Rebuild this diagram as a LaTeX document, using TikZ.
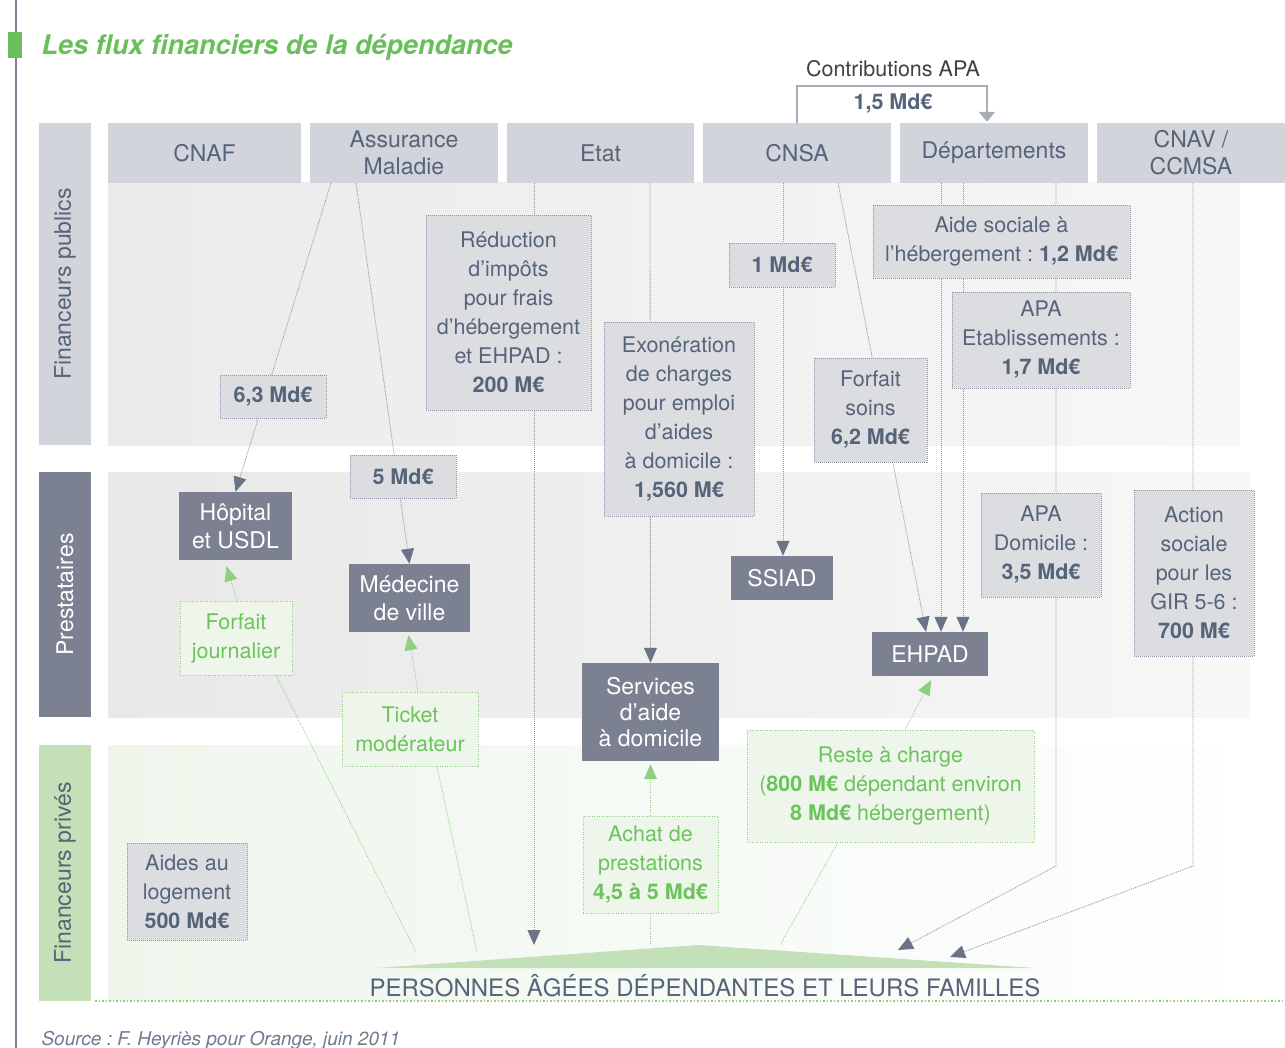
\documentclass[tikz,border=0pt]{standalone}
\usepackage{fontspec}
\setmainfont{TeX Gyre Heros}
\usepackage{xcolor}
\usetikzlibrary{arrows.meta,calc,positioning}
\frenchspacing

\definecolor{titlegreen}{HTML}{6ABF5C}
\definecolor{headgrey}{HTML}{D2D4DB}
\definecolor{textgrey}{HTML}{56647A}
\definecolor{labelgrey}{HTML}{DCDDE1}
\definecolor{dotgrey}{HTML}{8F95A3}
\definecolor{provgrey}{HTML}{7B8191}
\definecolor{arrowgrey}{HTML}{6B7486}
\definecolor{apagrey}{HTML}{A9ADB7}
\definecolor{palegreen}{HTML}{EEF6EC}
\definecolor{bandgreen}{HTML}{C3E0B8}
\definecolor{privgreen}{HTML}{6CC35C}
\definecolor{lightgreen}{HTML}{8FCF80}

\pgfdeclarelayer{back}
\pgfdeclarelayer{links}
\pgfsetlayers{back,links,main}

\begin{document}
\begin{tikzpicture}[x=1pt,y=-1pt,font=\fontsize{21.5}{29}\selectfont]
    \tikzstyle{header}=[fill=headgrey, text=textgrey, inner sep=0, minimum height=60, align=center, font=\fontsize{23}{27}\selectfont]
    \tikzstyle{band}=[inner sep=0, minimum height=52, font=\fontsize{23}{26}\selectfont]
    \tikzstyle{amount}=[fill=labelgrey, draw=dotgrey, line width=0.9, dash pattern=on 1pt off 1pt, text=textgrey, align=center, inner sep=0]
    \tikzstyle{provider}=[fill=provgrey, text=white, align=center, inner sep=0, font=\fontsize{23}{28}\selectfont]
    \tikzstyle{private}=[fill=palegreen, draw=lightgreen, line width=0.9, dash pattern=on 1pt off 1.5pt, text=privgreen, align=center, inner sep=0]
    \tikzstyle{flow}=[draw=dotgrey, line width=0.8, dash pattern=on 1pt off 1pt]
    \tikzstyle{flowto}=[flow, -{Triangle[width=13pt,length=15pt,color=arrowgrey]}]
    \tikzstyle{privflow}=[draw=lightgreen, line width=0.9, dash pattern=on 1pt off 1.5pt]
    \tikzstyle{privto}=[privflow, -{Triangle[width=13pt,length=15pt,color=lightgreen]}]
    \useasboundingbox (0,0) rectangle (1285,1048);

    \begin{pgfonlayer}{back}
        \fill[left color=black!8, right color=black!3] (108,183) rectangle (1240,445);
        \fill[left color=black!9, right color=black!3] (108,472) rectangle (1250,717);
        \fill[left color=palegreen, right color=white] (108,745) rectangle (1285,1000);
    \end{pgfonlayer}
    \draw[provgrey, line width=1.5] (16,0) -- (16,1048);
    \fill[titlegreen] (8,32) rectangle (22,58);
    \node[anchor=base west, text=titlegreen, font=\fontsize{27}{30}\selectfont\bfseries\itshape] (title) at (38,55) {Les flux financiers de la dépendance};

    \node[header, minimum width=193] (cnaf) at (204.5,153) {CNAF};
    \node[header, minimum width=188] (am) at (404,153) {Assurance\\Maladie};
    \node[header, minimum width=187] (etat) at (600.5,153) {Etat};
    \node[header, minimum width=188] (cnsa) at (797,153) {CNSA};
    \node[header, minimum width=188] (dep) at (994,153) {Départements};
    \node[header, minimum width=188] (cnav) at (1191,153) {CNAV /\\CCMSA};

    \node[band, fill=headgrey, text=textgrey, rotate=90, minimum width=322] (pub) at (65,284) {Financeurs publics};
    \node[band, fill=provgrey, text=white, rotate=90, minimum width=245] (prest) at (65,594.5) {Prestataires};
    \node[band, fill=bandgreen, text=textgrey, rotate=90, minimum width=256] (priv) at (65,873) {Financeurs privés};

    \node[text=black!75] (contrib) at (893,69) {Contributions APA};
    \node[text=textgrey, font=\fontsize{21.5}{24}\selectfont\bfseries] (contribval) at (893,104) {1,5 Md€};
    \draw[apagrey, line width=2.5, -{Triangle[width=16pt,length=10pt]}] (cnsa.north) -- ++(0,-37) -| ($(dep.north)+(-7,-1)$);

    \node[amount, minimum width=106, minimum height=43] (lab63) at (273,396.5) {\textbf{6,3 Md€}};
    \node[amount, minimum width=106, minimum height=43] (lab5) at (403,476.5) {\textbf{5 Md€}};
    \node[amount, minimum width=165, minimum height=195] (reduction) at (508.5,312.5) {Réduction\\d’impôts\\pour frais\\d’hébergement\\et EHPAD :\\\textbf{200 M€}};
    \node[amount, minimum width=106, minimum height=44] (onemd) at (782,265) {\textbf{1 Md€}};
    \node[amount, minimum width=150, minimum height=194] (exon) at (679,419) {Exonération\\de charges\\pour emploi\\d’aides\\à domicile :\\\textbf{1,560 M€}};
    \node[amount, minimum width=113, minimum height=104] (soins) at (870.5,410) {Forfait\\soins\\\textbf{6,2 Md€}};
    \node[amount, minimum width=257, minimum height=73] (aide) at (1001.5,241.5) {Aide sociale à\\l’hébergement : \textbf{1,2 Md€}};
    \node[amount, minimum width=178, minimum height=96] (apaetab) at (1041,340) {APA\\Etablissements :\\\textbf{1,7 Md€}};
    \node[amount, minimum width=120, minimum height=104] (apadom) at (1041,545) {APA\\Domicile :\\\textbf{3,5 Md€}};
    \node[amount, minimum width=120, minimum height=166] (action) at (1194,573) {Action\\sociale\\pour les\\GIR 5-6 :\\\textbf{700 M€}};
    \node[amount, minimum width=120, minimum height=97] (logement) at (187,891.5) {Aides au\\logement\\\textbf{500 Md€}};

    \node[provider, minimum width=113, minimum height=68] (hopital) at (235.5,526) {Hôpital\\et USDL};
    \node[provider, minimum width=121, minimum height=68] (medecine) at (409.5,598) {Médecine\\de ville};
    \node[provider, minimum width=102, minimum height=44] (ssiad) at (782,578) {SSIAD};
    \node[provider, minimum width=137, minimum height=98, font=\fontsize{23}{26}\selectfont] (services) at (650.5,712) {Services\\d’aide\\à domicile};
    \node[provider, minimum width=116, minimum height=44] (ehpad) at (930,654) {EHPAD};

    \node[private, minimum width=112, minimum height=74] (journalier) at (236,638) {Forfait\\journalier};
    \node[private, minimum width=136, minimum height=74] (ticket) at (410,729) {Ticket\\modérateur};
    \node[private, minimum width=135, minimum height=97] (achat) at (650.5,864.5) {Achat de\\prestations\\\textbf{4,5 à 5 Md€}};
    \node[private, minimum width=287, minimum height=112] (reste) at (890.5,786) {Reste à charge\\(\textbf{800 M€} dépendant environ\\\textbf{8 Md€} hébergement)};

    \fill[bandgreen] (376,968) -- (698,945) -- (1035,968) -- cycle;
    \coordinate (peak) at (698,945);
    \node[text=textgrey, font=\fontsize{24}{28}\selectfont] (personnes) at (705,986) {PERSONNES ÂGÉES DÉPENDANTES ET LEURS FAMILLES};
    \draw[lightgreen, line width=1.5, dash pattern=on 1.5pt off 2pt] (95,1001) -- (1285,1001);
    \node[anchor=base west, text=textgrey!85, font=\fontsize{19}{22}\selectfont\itshape] (source) at (38,1045) {Source : F. Heyriès pour Orange, juin 2011};

    \coordinate (am1) at (331,183);
    \coordinate (am2) at (356,183);
    \coordinate (etat1) at (534,183);
    \coordinate (etat2) at (650,183);
    \coordinate (cnsa1) at (783,183);
    \coordinate (cnsa2) at (838,183);
    \coordinate (dep1) at (941,183);
    \coordinate (dep2) at (963,183);
    \coordinate (dep3) at (1056,183);
    \coordinate (cnav1) at (1193,183);
    \coordinate (bendrow) at (0,866);
    \coordinate (famdep) at (898,950);
    \coordinate (famcnav) at (950,957);
    \coordinate (famj) at (416,952);
    \coordinate (famt) at (477,952);
    \coordinate (famr) at (780,945);

    \begin{pgfonlayer}{links}
        \draw[flowto] (am1) -- (hopital.north);
        \draw[flowto] (am2) -- (medecine.north);
        \draw[flowto] (etat1) -- (etat1 |- peak);
        \draw[flowto] (etat2) -- (services.north);
        \draw[flowto] (cnsa1) -- (cnsa1 |- ssiad.north);
        \draw[flowto] (cnsa2) -- ($(ehpad.north)+(-4,0)$);
        \draw[flowto] (dep1) -- (dep1 |- ehpad.north);
        \draw[flowto] (dep2) -- (dep2 |- ehpad.north);
        \draw[flowto] (dep3) -- (dep3 |- bendrow) -- (famdep);
        \draw[flowto] (cnav1) -- (cnav1 |- bendrow) -- (famcnav);
        \draw[privto] ($(journalier.north)+(1,0)$) -- ($(hopital.south)+(-9,6)$);
        \draw[privflow] ($(journalier.south)+(40,0)$) -- (famj);
        \draw[privto] ($(ticket.north)+(8,0)$) -- ($(medecine.south)+(-1,3)$);
        \draw[privflow] ($(ticket.south)+(27,0)$) -- (famt);
        \draw[privto] (achat.north) -- ($(services.south)+(0,3)$);
        \draw[privflow] (achat.south) -- (achat.south |- peak);
        \draw[privto] ($(reste.north)+(14.5,0)$) -- ($(ehpad.south)+(1,4)$);
        \draw[privflow] ($(reste.south)+(-52.5,0)$) -- (famr);
    \end{pgfonlayer}
\end{tikzpicture}
\end{document}
